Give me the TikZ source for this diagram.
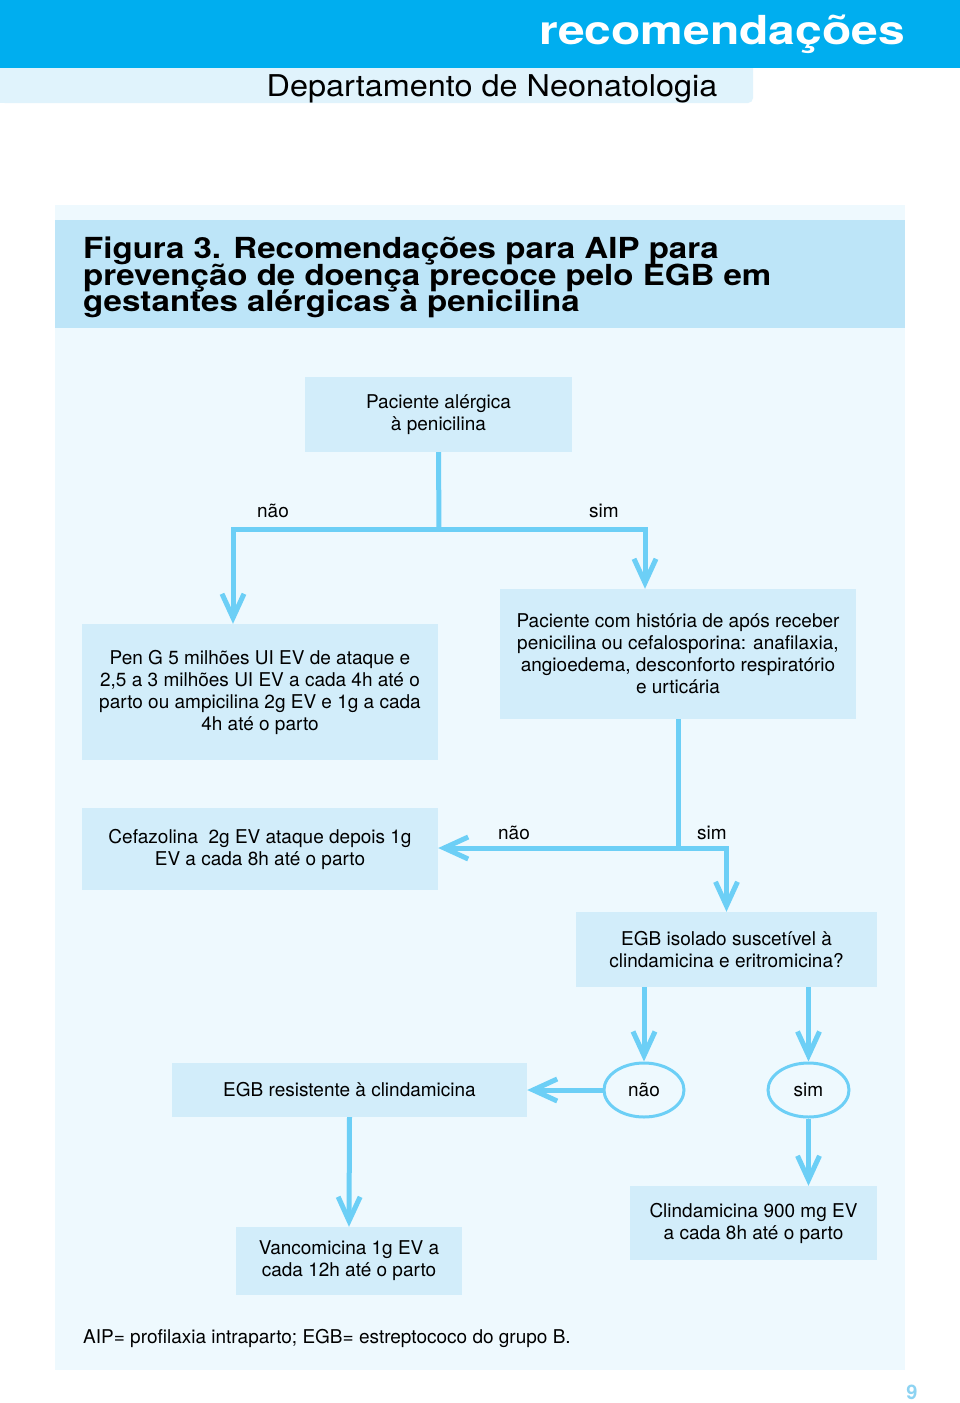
\documentclass[tikz,border=0pt]{standalone}
\usepackage{fontspec}
\setmainfont{TeX Gyre Heros}
\newfontfamily\hdrfont{TeX Gyre Heros}[FakeStretch=1.2]
\newfontfamily\titlefont{TeX Gyre Heros}[FakeStretch=1.14]
\newfontfamily\deptfont{TeX Gyre Heros}[FakeStretch=1.08]
\newcommand\mytightlines{\lineskiplimit=-30pt\relax}
\usetikzlibrary{arrows.meta,shapes.geometric}
\definecolor{hdrblue}{HTML}{00AEEF}
\definecolor{bandc}{HTML}{E0F3FC}
\definecolor{panelc}{HTML}{EEF9FE}
\definecolor{titlec}{HTML}{BDE5F8}
\definecolor{boxc}{HTML}{D2EDFA}
\definecolor{arrc}{HTML}{6CCFF6}
\definecolor{pagec}{HTML}{8DD3F2}
\begin{document}
\begin{tikzpicture}[x=1pt,y=-1pt,
  boxnode/.style={fill=boxc, inner sep=0pt, align=center, font=\fontsize{19}{22}\selectfont},
  oval/.style={ellipse, draw=arrc, line width=3pt, fill=panelc, inner sep=0pt, minimum width=80pt, minimum height=54pt, font=\fontsize{19}{22}\selectfont},
  lbl/.style={font=\fontsize{19}{22}\selectfont, inner sep=0pt},
  conn/.style={draw=arrc, line width=5pt},
  arr/.style={conn, -{Straight Barb[length=24pt,width=22pt]}}
]
\useasboundingbox (0,0) rectangle (960,1403);
% header
\fill[white] (0,0) rectangle (960,1403);
\fill[bandc, rounded corners=5pt] (0,60) rectangle (753,103);
\fill[bandc] (0,68) rectangle (745,103);
\fill[hdrblue] (0,0) rectangle (960,68);
\node[anchor=base east, text=white, font={\fontsize{40}{40}\hdrfont\bfseries}, inner sep=0pt] (hdr) at (905,44) {recomendações};
\node[anchor=base, font={\fontsize{30}{30}\deptfont}, inner sep=0pt] (dept) at (492,96) {Departamento de Neonatologia};
% panel
\fill[panelc] (55,205) rectangle (905,1370);
\fill[titlec] (55,220) rectangle (905,328);
\node[anchor=north west, align=left, inner sep=0pt, font={\fontsize{29}{26.5}\titlefont\bfseries\mytightlines}] (title) at (83,237)
  {Figura 3. Recomendações para AIP para\\prevenção de doença precoce pelo EGB em\\gestantes alérgicas à penicilina};
% boxes
\node[boxnode, minimum width=267pt, minimum height=75pt] (p1) at (438.5,414.5) {Paciente alérgica\\à penicilina};
\node[boxnode, minimum width=356pt, minimum height=136pt] (peng) at (260,692) {Pen G 5 milhões UI EV de ataque e\\2,5 a 3 milhões UI EV a cada 4h até o\\parto ou ampicilina 2g EV e 1g a cada\\4h até o parto};
\node[boxnode, minimum width=356pt, minimum height=130pt] (hist) at (678,654) {Paciente com história de após receber\\penicilina ou cefalosporina: anafilaxia,\\angioedema, desconforto respiratório\\e urticária};
\node[boxnode, minimum width=356pt, minimum height=82pt] (cefa) at (260,849) {Cefazolina\ \ 2g EV ataque depois 1g\\EV a cada 8h até o parto};
\node[boxnode, minimum width=301pt, minimum height=75pt] (egb) at (726.5,949.5) {EGB isolado suscetível à\\clindamicina e eritromicina?};
\node[boxnode, minimum width=355pt, minimum height=54pt] (res) at (349.5,1090) {EGB resistente à clindamicina};
\node[boxnode, minimum width=226pt, minimum height=68pt] (vanc) at (349,1261) {Vancomicina 1g EV a\\cada 12h até o parto};
\node[boxnode, minimum width=247pt, minimum height=74pt] (clin) at (753.5,1223) {Clindamicina 900 mg EV\\a cada 8h até o parto};
\node[oval] (nao2) at (644,1090) {não};
\node[oval, minimum width=81pt] (sim2) at (808.5,1090) {sim};
% labels
\node[lbl] (l1) at (273,511) {não};
\node[lbl] (l2) at (604,511) {sim};
\node[lbl] (l3) at (514,833) {não};
\node[lbl] (l4) at (712,833) {sim};
% connectors
\coordinate (j1) at (439,529);
\coordinate (j2) at (678,848);
\draw[conn] (p1.south) -- (j1);
\draw[arr] (j1) -| ([xshift=-27pt]peng.north);
\draw[arr] (j1) -| ([xshift=-33pt]hist.north);
\draw[conn] (hist.south) -- (j2);
\draw[arr] (j2) -- (j2 -| cefa.east);
\draw[arr] (j2) -| (egb.north);
\draw[arr] (nao2.north |- egb.south) -- (nao2.north);
\draw[arr] (sim2.north |- egb.south) -- (sim2.north);
\draw[arr] (nao2.west) -- (res.east);
\draw[arr] (res.south) -- (vanc.north);
\draw[arr] (sim2.south) -- (sim2.south |- clin.north);
% footnote
\node[anchor=base west, inner sep=0pt, font=\fontsize{19}{22}\selectfont] (foot) at (83,1343) {AIP= profilaxia intraparto; EGB= estreptococo do grupo B.};
\node[anchor=base, inner sep=0pt, text=pagec, font=\fontsize{20}{20}\selectfont\bfseries] (pg) at (912,1399) {9};
\end{tikzpicture}
\end{document}
